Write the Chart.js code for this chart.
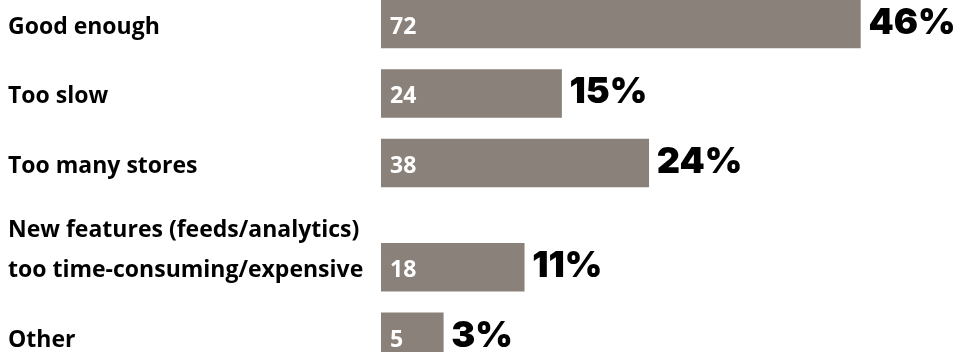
<!DOCTYPE html>
<html>
<head>
<meta charset="utf-8">
<script src="https://cdn.jsdelivr.net/npm/chart.js@4.4.0/dist/chart.umd.min.js"></script>
<style>
  html, body { margin: 0; padding: 0; background: #fff; }
  #wrap { width: 960px; height: 352px; }
</style>
</head>
<body>
<div id="wrap"><canvas id="chart"></canvas></div>
<script>
// reasons given, one entry per row (extra lines wrap upward)
const reasons = [
  ["Good enough"],
  ["Too slow"],
  ["Too many stores"],
  ["New features (feeds/analytics)", "too time-consuming/expensive"],
  ["Other"],
];
const counts = [72, 24, 38, 18, 5];
const shares = [46, 15, 24, 11, 3];

const barColor = "#89817a";
const labelFont = "bold 23px 'Open Sans'";
const countFont = "bold 23px 'Open Sans'";
const shareFont = "900 36px 'Inter'";

//row positions: a two-line reason pushes its row down half a step
const rowPos = [];
let pos = 0;
reasons.forEach((lines, i) => {
  if (i > 0) pos += 1 + (lines.length - 1) * 0.5;
  rowPos.push(pos);
});

//draw reason text, count inside the bar and share after it
const barLabels = {
  id: "barLabels",
  afterDatasetsDraw(chart) {
    const ctx = chart.ctx;
    const bars = chart.getDatasetMeta(0).data;
    ctx.save();
    ctx.textBaseline = "alphabetic";
    ctx.textAlign = "left";
    bars.forEach((bar, i) => {
      const baseline = bar.y + 10;
      const lines = reasons[i];
      ctx.fillStyle = "#000";
      ctx.font = labelFont;
      lines.forEach((line, j) => {
        ctx.fillText(line, 8, baseline + (j - lines.length + 1) * 40);
      });

      ctx.fillStyle = "#fff";
      ctx.font = countFont;
      ctx.fillText(String(counts[i]), bar.base + 9, baseline);

      ctx.fillStyle = "#000";
      ctx.font = shareFont;
      ctx.fillText(shares[i] + "%", bar.x + 8, baseline);
    });
    ctx.restore();
  },
};

new Chart(document.getElementById("chart"), {
  type: "bar",
  data: {
    datasets: [
      {
        data: counts.map((c, i) => ({ x: c, y: rowPos[i] })),
        backgroundColor: barColor,
        barThickness: 48,
        //bars start a little left of zero so the small counts stay readable
        base: -5,
      },
    ],
  },
  options: {
    indexAxis: "y",
    responsive: true,
    maintainAspectRatio: false,
    animation: false,
    layout: { padding: { left: 381 } },
    plugins: {
      legend: { display: false },
      tooltip: { enabled: false },
    },
    scales: {
      x: { type: "linear", display: false, min: -5, max: 88 },
      y: {
        type: "linear",
        display: false,
        reverse: true,
        offset: false,
        min: -0.345,
        max: 4.72,
      },
    },
  },
  plugins: [barLabels],
});
</script>
</body>
</html>
